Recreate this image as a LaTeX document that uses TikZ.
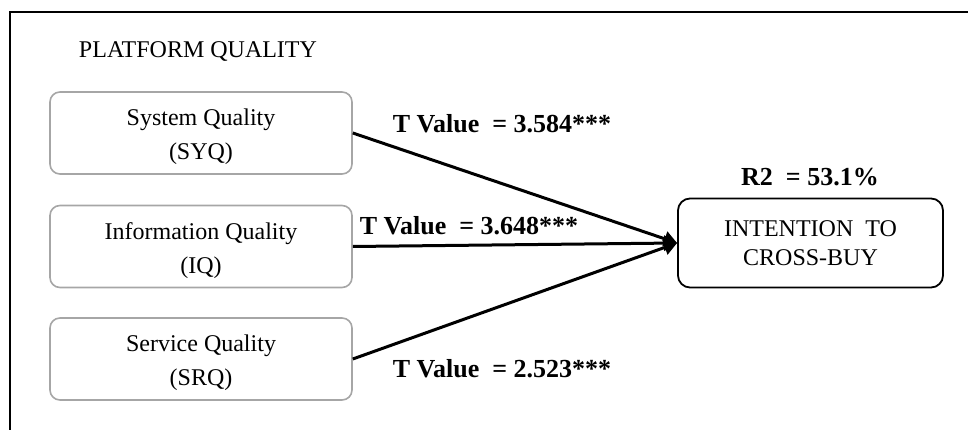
\documentclass[tikz,border=0pt]{standalone}
\usepackage{fontspec}
\setmainfont{Liberation Serif}
\usetikzlibrary{arrows.meta}
\begin{document}
\begin{tikzpicture}[x=1pt,y=-1pt,
  srcbox/.style={draw=black!35, line width=1.6pt, rounded corners=10pt, minimum width=302pt, minimum height=82pt, inner sep=0pt},
  srctext/.style={align=center, font=\fontsize{24}{34}\selectfont, inner sep=0pt, yshift=-4pt},
  tgtbox/.style={draw=black, line width=1.8pt, rounded corners=12pt, minimum width=265pt, minimum height=89pt, align=center, font=\fontsize{24}{29}\selectfont, inner sep=0pt},
  lbl/.style={font=\fontsize{26}{30}\selectfont\bfseries, inner sep=0pt},
  path/.style={line width=3pt, -{Triangle[length=13pt,width=15pt]}}
]
\useasboundingbox (0,0) rectangle (968,430);
\coordinate (fa) at (10,431);
\coordinate (fb) at (10,12);
\coordinate (fc) at (969,12);
\draw[line width=2pt] (fa) -- (fb) -- (fc);
\node[font=\fontsize{24}{28}\selectfont, inner sep=0pt] (pq) at (198,52) {PLATFORM QUALITY};
\node[srcbox] (syq) at (201,133) {};
\node[srctext] (syqt) at (syq.center) {System Quality\\(SYQ)};
\node[srcbox] (iq) at (201,246.5) {};
\node[srctext] (iqt) at (iq.center) {Information Quality\\(IQ)};
\node[srcbox] (srq) at (201,359) {};
\node[srctext] (srqt) at (srq.center) {Service Quality\\(SRQ)};
\node[tgtbox] (int) at (810.5,243) {INTENTION\ \ TO\\CROSS-BUY};
\node[lbl] (r2) at (810,177) {R2\ \ = 53.1\%};
\draw[path] (syq.east) -- (int.west);
\draw[path] (iq.east) -- (int.west);
\draw[path] (srq.east) -- (int.west);
\node[lbl] (t1) at (502,124) {T Value\ \ = 3.584***};
\node[lbl] (t2) at (469,226) {T Value\ \ = 3.648***};
\node[lbl] (t3) at (502,369) {T Value\ \ = 2.523***};
\end{tikzpicture}
\end{document}
